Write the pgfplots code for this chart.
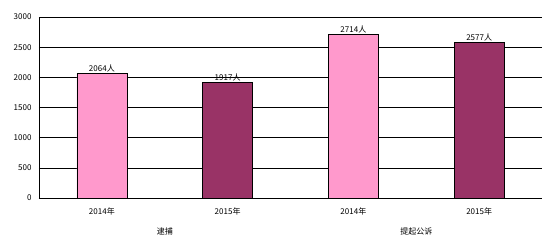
\documentclass[border=0pt]{standalone}
\usepackage{pgfplots}
\pgfplotsset{compat=1.18}
\usepackage{fontspec}
\setmainfont{Noto Sans CJK SC}
\definecolor{pinkbar}{HTML}{FF99CC}
\definecolor{plumbar}{HTML}{993366}
\begin{document}
\begin{tikzpicture}
\path[use as bounding box] (-39pt,-50pt) rectangle (514pt,198pt);
\begin{axis}[
  at={(0pt,0pt)}, anchor=south west,
  scale only axis, width=503pt, height=181pt,
  xmin=-0.5, xmax=3.5, ymin=0, ymax=3000,
  ytick={0,500,...,3000},
  xtick={0,1,2,3},
  xticklabels={2014年,2015年,2014年,2015年},
  ymajorgrids, major grid style={black, line width=0.6pt},
  axis x line*=bottom, axis y line*=left,
  axis line style={black, line width=0.6pt, -},
  major tick length=0pt,
  tick label style={font=\fontsize{8}{9}\selectfont},
  yticklabel style={xshift=-4pt},
  xticklabel style={yshift=-6pt},
  /pgf/number format/assume math mode=true,
  /pgf/number format/1000 sep={},
  ybar, bar width=50pt,
  nodes near coords={\pgfmathprintnumber{\pgfplotspointmeta}人},
  every node near coord/.append style={font=\fontsize{8}{9}\selectfont, black, yshift=-2pt},
  clip=false,
]
\addplot[fill=pinkbar, draw=black, line width=0.6pt, bar shift=0pt] coordinates {(0,2064) (2,2714)};
\addplot[fill=plumbar, draw=black, line width=0.6pt, bar shift=0pt] coordinates {(1,1917) (3,2577)};
\node[font=\fontsize{8}{9}\selectfont] at (axis cs:0.5,0) [yshift=-33pt] {逮捕};
\node[font=\fontsize{8}{9}\selectfont] at (axis cs:2.5,0) [yshift=-33pt] {提起公诉};
\end{axis}
\end{tikzpicture}
\end{document}
